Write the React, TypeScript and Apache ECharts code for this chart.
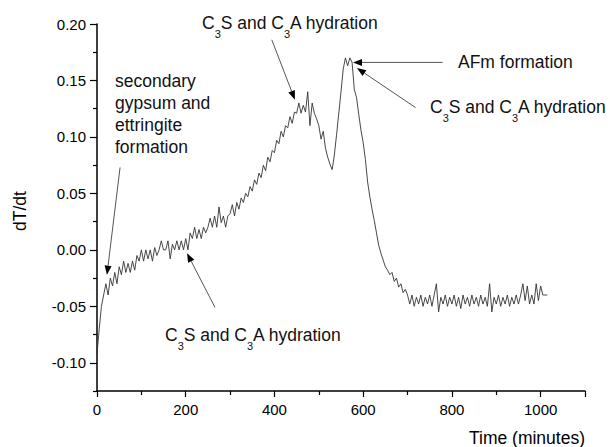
import { useEffect, useRef } from "react";
import * as echarts from "echarts";

const FONT = '"Liberation Sans", Arial, Helvetica, sans-serif';

// dT/dt recorded every 5 minutes, from 0 to 1015 min
const SAMPLE_STEP = 5;
const dTdt = [
  // 0 - 45
  -0.092, -0.070, -0.050, -0.040, -0.030, -0.040, -0.025, -0.032, -0.020, -0.030,
  // 50 - 95
  -0.015, -0.022, -0.010, -0.020, -0.012, -0.020, -0.010, -0.018, -0.005, -0.010,
  // 100 - 145
  0.000, -0.010, 0.000, -0.008, 0.000, -0.010, 0.002, -0.005, 0.000, 0.008,
  // 150 - 195
  0.000, 0.000, 0.008, -0.008, 0.005, 0.000, 0.008, 0.000, 0.008, 0.000,
  // 200 - 245
  0.010, 0.000, 0.015, 0.010, 0.020, 0.010, 0.018, 0.010, 0.020, 0.015,
  // 250 - 295
  0.020, 0.028, 0.020, 0.030, 0.020, 0.038, 0.024, 0.030, 0.020, 0.030,
  // 300 - 345
  0.032, 0.040, 0.030, 0.042, 0.036, 0.046, 0.042, 0.050, 0.047, 0.056,
  // 350 - 395
  0.052, 0.062, 0.058, 0.068, 0.064, 0.075, 0.070, 0.082, 0.078, 0.088,
  // 400 - 445
  0.086, 0.097, 0.094, 0.105, 0.100, 0.110, 0.108, 0.118, 0.112, 0.122,
  // 450 - 495
  0.121, 0.130, 0.121, 0.128, 0.122, 0.140, 0.110, 0.130, 0.121, 0.116,
  // 500 - 545
  0.110, 0.098, 0.105, 0.090, 0.082, 0.076, 0.071, 0.084, 0.102, 0.121,
  // 550 - 595
  0.140, 0.160, 0.170, 0.163, 0.170, 0.166, 0.142, 0.135, 0.120, 0.106,
  // 600 - 645
  0.095, 0.080, 0.060, 0.047, 0.036, 0.026, 0.015, 0.004, -0.003, -0.009,
  // 650 - 695
  -0.015, -0.018, -0.022, -0.020, -0.028, -0.025, -0.033, -0.030, -0.038, -0.035,
  // 700 - 745
  -0.040, -0.048, -0.040, -0.050, -0.042, -0.048, -0.040, -0.050, -0.042, -0.048,
  // 750 - 795
  -0.040, -0.050, -0.040, -0.030, -0.055, -0.042, -0.048, -0.040, -0.050, -0.042,
  // 800 - 845
  -0.048, -0.040, -0.050, -0.042, -0.052, -0.040, -0.048, -0.042, -0.050, -0.040,
  // 850 - 895
  -0.048, -0.042, -0.050, -0.040, -0.048, -0.042, -0.050, -0.030, -0.055, -0.042,
  // 900 - 945
  -0.048, -0.040, -0.050, -0.042, -0.048, -0.040, -0.050, -0.042, -0.048, -0.040,
  // 950 - 995
  -0.048, -0.040, -0.030, -0.045, -0.032, -0.048, -0.040, -0.048, -0.030, -0.045,
  // 1000 - 1015
  -0.032, -0.040, -0.040, -0.040,
];
const minutes = dTdt.map((_, i) => i * SAMPLE_STEP);

const xMajorTicks = [0, 200, 400, 600, 800, 1000, 1100];
const xTickLabels = [0, 200, 400, 600, 800, 1000];
const xMinorTicks = [100, 300, 500, 700, 900];
const yTickLabels = [-0.1, -0.05, 0, 0.05, 0.1, 0.15, 0.2];
const yMinorTicks = [-0.125, -0.075, -0.025, 0.025, 0.075, 0.125, 0.175];

const HYDRATION = "C{s|3}S and C{s|3}A hydration";

// Callouts: text box position in px, arrow tail/tip in data coordinates (min, dT/dt)
const callouts = [
  { text: HYDRATION, x: 202, y: 23, tail: [394, 0.186], tip: [446, 0.133] },
  {
    text: "secondary\ngypsum and\nettringite\nformation",
    x: 115, y: 70, top: true,
    tail: [52, 0.073], tip: [22.5, -0.022],
  },
  { text: HYDRATION, x: 165, y: 335, tail: [266, -0.051], tip: [203, -0.003] },
  { text: "AFm formation", x: 458, y: 62, tail: [779, 0.166], tip: [577, 0.166] },
  { text: HYDRATION, x: 430, y: 107, tail: [718, 0.126], tip: [586, 0.161] },
];

function arrow(tail: number[], tip: number[]) {
  const dx = tip[0] - tail[0];
  const dy = tip[1] - tail[1];
  const len = Math.hypot(dx, dy);
  const ux = dx / len;
  const uy = dy / len;
  const headLen = 9;
  const half = 3.5;
  const bx = tip[0] - ux * headLen;
  const by = tip[1] - uy * headLen;
  return [
    {
      type: "line",
      silent: true,
      shape: { x1: tail[0], y1: tail[1], x2: bx, y2: by },
      style: { stroke: "#555", lineWidth: 1 },
    },
    {
      type: "polygon",
      silent: true,
      shape: {
        points: [
          [tip[0], tip[1]],
          [bx - uy * half, by + ux * half],
          [bx + uy * half, by - ux * half],
        ],
      },
      style: { fill: "#000" },
    },
  ];
}

export default function App() {
  const ref = useRef<HTMLDivElement>(null);

  useEffect(() => {
    if (!ref.current) return;
    const chart = echarts.init(ref.current, null, { renderer: "svg" });

    const tickLabel = {
      fontSize: 15,
      fontFamily: FONT,
      color: "#000",
    };
    const tickStyle = { color: "#000", width: 1.2 };

    chart.setOption({
      animation: false,
      backgroundColor: "#fff",
      grid: { left: 97, right: 25, top: 24, bottom: 56 },
      xAxis: [
        {
          type: "value",
          min: 0,
          max: 1100,
          position: "bottom",
          axisLine: {
            show: true,
            onZero: false,
            lineStyle: { color: "#000", width: 1.5 },
          },
          axisTick: {
            show: true,
            inside: false,
            length: 6,
            customValues: xMajorTicks,
            lineStyle: tickStyle,
          },
          axisLabel: {
            ...tickLabel,
            margin: 11,
            customValues: xTickLabels,
            formatter: (v: number) => String(v),
          },
          splitLine: { show: false },
        },
        {
          type: "value",
          min: 0,
          max: 1100,
          position: "bottom",
          axisLine: { show: false, onZero: false },
          axisTick: {
            show: true,
            inside: false,
            length: 4,
            customValues: xMinorTicks,
            lineStyle: tickStyle,
          },
          axisLabel: { show: false },
          splitLine: { show: false },
        },
      ],
      yAxis: [
        {
          type: "value",
          min: -0.125,
          max: 0.2,
          position: "left",
          axisLine: {
            show: true,
            onZero: false,
            lineStyle: { color: "#000", width: 1.5 },
          },
          axisTick: {
            show: true,
            inside: false,
            length: 7,
            customValues: yTickLabels,
            lineStyle: tickStyle,
          },
          axisLabel: {
            ...tickLabel,
            margin: 11,
            customValues: yTickLabels,
            formatter: (v: number) => v.toFixed(2),
          },
          splitLine: { show: false },
        },
        {
          type: "value",
          min: -0.125,
          max: 0.2,
          position: "left",
          axisLine: { show: false, onZero: false },
          axisTick: {
            show: true,
            inside: false,
            length: 4,
            customValues: yMinorTicks,
            lineStyle: tickStyle,
          },
          axisLabel: { show: false },
          splitLine: { show: false },
        },
      ],
      series: [
        {
          type: "line",
          xAxisIndex: 0,
          yAxisIndex: 0,
          symbol: "none",
          showSymbol: false,
          lineStyle: { color: "#333", width: 0.9 },
          data: minutes.map((t, i) => [t, dTdt[i]]),
        },
      ],
    });

    const toPx = (p: number[]) =>
      chart.convertToPixel({ xAxisIndex: 0, yAxisIndex: 0 }, p) as number[];

    const graphics: any[] = [];
    callouts.forEach((c) => {
      graphics.push(...arrow(toPx(c.tail), toPx(c.tip)));
      graphics.push({
        type: "text",
        silent: true,
        x: c.x,
        y: c.y,
        style: {
          text: c.text,
          fontSize: 17.5,
          fontFamily: FONT,
          fill: "#111",
          textAlign: "left",
          textVerticalAlign: c.top ? "top" : "middle",
          lineHeight: c.top ? 22 : 32,
          rich: {
            s: {
              fontSize: 11,
              fontFamily: FONT,
              fill: "#111",
              lineHeight: 10,
              verticalAlign: "bottom",
            },
          },
        },
      });
    });

    graphics.push(
      {
        type: "text",
        silent: true,
        x: 20,
        y: 211,
        rotation: Math.PI / 2,
        style: {
          text: "dT/dt",
          fontSize: 17.5,
          fontFamily: FONT,
          fill: "#000",
          textAlign: "center",
          textVerticalAlign: "middle",
        },
      },
      {
        type: "text",
        silent: true,
        x: 585,
        y: 438,
        style: {
          text: "Time (minutes)",
          fontSize: 17.5,
          fontFamily: FONT,
          fill: "#000",
          textAlign: "right",
          textVerticalAlign: "middle",
        },
      }
    );

    chart.setOption({ graphic: graphics });

    return () => chart.dispose();
  }, []);

  return (
    <div
      ref={ref}
      style={{ position: "fixed", left: 0, top: 0, width: 610, height: 447 }}
    />
  );
}
